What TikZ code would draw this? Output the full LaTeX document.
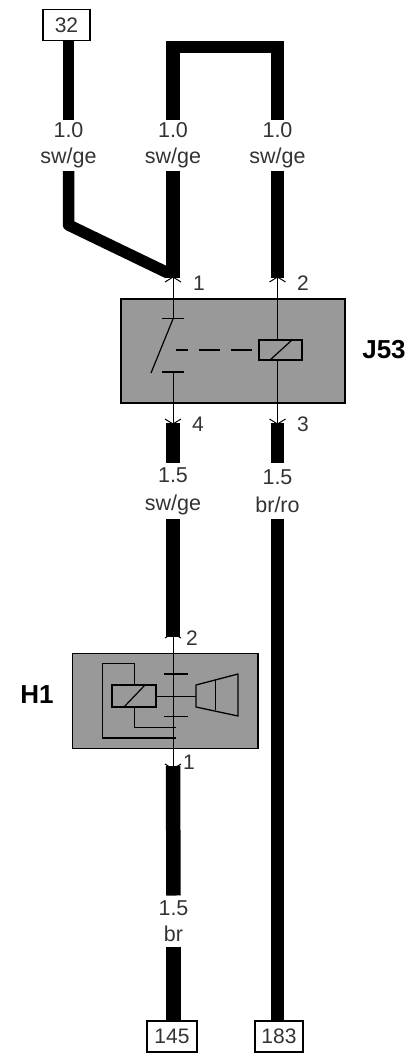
\documentclass[tikz,border=0pt]{standalone}
\usepackage{fontspec}
\setmainfont{Liberation Sans}
\definecolor{ink}{HTML}{333333}
\definecolor{boxgray}{HTML}{999999}
\tikzset{
  every node/.style={inner sep=0pt,outer sep=0pt,text=ink},
  wirethin/.style={line width=11.5pt,black,line join=round},
  wiremid/.style={line width=14.5pt,black},
  wireright/.style={line width=13.5pt,black},
  thinline/.style={line width=1pt,black},
  terminal/.style={draw=black,line width=1.2pt,fill=white,minimum height=31pt,font=\fontsize{21}{21}\selectfont},
  wirelabel/.style={align=center,text width=60pt,font=\fontsize{21.5}{26}\selectfont},
  widelabel/.style={align=center,text width=60pt,font=\fontsize{21.5}{28}\selectfont},
  pinlabel/.style={font=\fontsize{21}{21}\selectfont},
  comp/.style={draw=black,fill=boxgray},
  coil/.style={draw=black,line width=1.2pt,fill=boxgray},
  compname/.style={font=\bfseries\fontsize{26}{26}\selectfont,text=black},
  pinup/.pic={\draw[line width=1pt,black] (-8,5)--(0,0)--(8,5);},
  pindown/.pic={\draw[line width=1pt,black] (-8,-5)--(0,0)--(8,-5);},
}
\begin{document}
\begin{tikzpicture}[x=1pt,y=-1pt]
\useasboundingbox[fill=white] (0,0) rectangle (416,1055);

% wire labels: each node spans the gap it leaves in its wire
\node[wirelabel,minimum height=51pt] (la) at (68.5,145.5) {1.0\\sw/ge};
\node[wirelabel,minimum height=51pt] (lb) at (173,145.5) {1.0\\sw/ge};
\node[wirelabel,minimum height=51pt] (lc) at (277.5,145.5) {1.0\\sw/ge};
\node[widelabel,minimum height=56pt] (ld) at (173,491) {1.5\\sw/ge};
\node[widelabel,minimum height=56pt] (le) at (277.5,491) {1.5\\br/ro};
\node[wirelabel,minimum height=51pt] (lf) at (173.5,921) {1.5\\br};

% terminals
\node[terminal,minimum width=47pt] (t32) at (66.5,25) {32};
\node[terminal,minimum width=50pt] (t145) at (172,1036.5) {145};
\node[terminal,minimum width=48pt] (t183) at (279,1036.5) {183};

% components
\node[comp,line width=1.8pt,minimum width=224pt,minimum height=104pt] (j53) at (233,351) {};
\node[comp,line width=1pt,minimum width=186pt,minimum height=95pt] (h1) at (165,700.5) {};
\draw[line width=2pt,black] (h1.north east) -- (h1.south east);
\node[compname] (j53name) at (384,350) {J53};
\node[compname] (h1name) at (37,695) {H1};

% wire free ends
\coordinate (topl) at (173,41);
\coordinate (topr) at (277.5,41);
\coordinate (bend) at (68.5,225);
\coordinate (join) at (168,273);
\coordinate (p1) at (173,278);
\coordinate (p2) at (277.5,278);
\coordinate (p4) at (173,423);
\coordinate (p3) at (277.5,423);
\coordinate (h2) at (173,637);
\coordinate (h3) at (173,766);
\coordinate (bridgel) at (165.75,46.75);
\coordinate (bridger) at (284.25,46.75);

% thick wires
\draw[wirethin] (la.north |- t32.south) -- (la.north);
\draw[wirethin] (la.south) -- (bend) -- (join);
\draw[wiremid] (topl) -- (lb.north);
\draw[wiremid] (lb.south) -- (p1);
\draw[wireright] (topr) -- (lc.north);
\draw[wireright] (lc.south) -- (p2);
\draw[wirethin] (bridgel) -- (bridger);
\draw[wiremid] (p4) -- (ld.north);
\draw[wireright] (p3) -- (le.north);
\draw[wiremid] (ld.south) -- (h2);
\draw[wireright] (le.south) -- (le.south |- t183.north);
\draw[wiremid] (h3) -- (lf.north);
\draw[wiremid] (lf.south) -- (lf.south |- t145.north);

% pin arrows
\pic at (173,277) {pinup};
\pic at (277.5,277) {pinup};
\pic at (173,424) {pindown};
\pic at (277.5,424) {pindown};
\pic at (173,633) {pinup};
\pic at (173,769) {pindown};

% pin labels
\node[pinlabel] (n1) at (199,283) {1};
\node[pinlabel] (n2) at (303,283) {2};
\node[pinlabel] (n4) at (198,424) {4};
\node[pinlabel] (n3) at (303,424) {3};
\node[pinlabel] (n5) at (192,638) {2};
\node[pinlabel] (n6) at (189,762) {1};

% J53 internals
\node[coil,minimum width=43pt,minimum height=20pt] (jcoil) at (280.5,350) {};
\coordinate (jc1) at (162,318.5);
\coordinate (jc2) at (184,318.5);
\coordinate (jc3) at (162,372);
\coordinate (jc4) at (184,372);
\coordinate (jt) at (173,318.5);
\coordinate (jb) at (173,372);
\draw[thinline] (p1) -- (jt);
\draw[thinline] (jc1) -- (jc2);
\draw[line width=1.8pt,black] (jc3) -- (jc4);
\draw[line width=1.2pt,black] (173,319) -- (151,373);
\draw[thinline] (jb) -- (p4);
\draw[thinline] (p2) -- (jcoil.north -| p2);
\draw[thinline] (jcoil.south -| p2) -- (p3);
\draw[line width=1.2pt,black] (270,360) -- (292,340);
\draw[line width=1.2pt,black,dash pattern=on 12pt off 11pt on 21pt off 11pt on 21pt off 100pt] (176,350) -- (jcoil.west);

% H1 internals
\node[coil,minimum width=44pt,minimum height=22pt] (hcoil) at (134,696) {};
\draw[line width=2pt,black] (hcoil.south west) -- (hcoil.south east);
\coordinate (hs1) at (196,685);
\coordinate (hs2) at (238,674);
\coordinate (hs3) at (238,716);
\coordinate (hs4) at (196,707);
\draw[line width=1.3pt,black,line join=round] (hs1) -- (hs2) -- (hs3) -- (hs4) -- cycle;
\draw[thinline] (215,680) -- (215,710);
\draw[thinline] (h2) -- (h3);
\draw[line width=2pt,black] (164,674) -- (188,674);
\draw[thinline] (164,716) -- (188,716);
\draw[thinline] (hcoil.east) -- (hs1 |- hcoil.east);
\draw[thinline] (hcoil.north) -- (134,663) -- (102,663) -- (102,738);
\draw[line width=2pt,black] (102,738) -- (176,738);
\draw[thinline] (hcoil.south) -- (134,727) -- (176,727);
\draw[line width=1.2pt,black] (124,707) -- (145,685);
\end{tikzpicture}
\end{document}
